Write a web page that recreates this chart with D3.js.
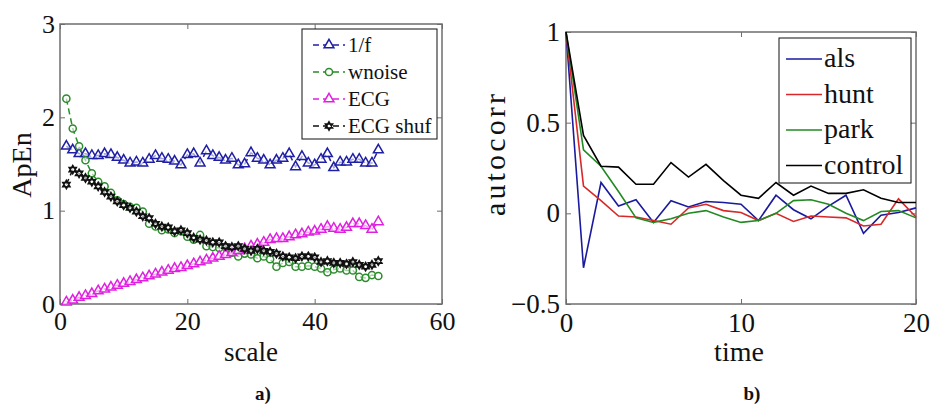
<!DOCTYPE html>
<html><head><meta charset="utf-8">
<script src="https://cdn.jsdelivr.net/npm/d3@7"></script>
<style>body{margin:0;background:#fff;} svg{display:block;} svg text{font-family:"Liberation Serif","Tinos","Times New Roman","DejaVu Serif",serif !important;}</style>
</head><body>
<svg id="c" width="931" height="407"></svg>
<script>
// ---- Panel a) data ----
const scales = d3.range(1, 51);
const oneOverF = [1.69,1.65,1.61,1.61,1.59,1.59,1.61,1.60,1.57,1.54,1.51,1.52,1.51,1.55,1.59,1.56,1.55,1.53,1.49,1.60,1.61,1.51,1.64,1.59,1.57,1.54,1.56,1.49,1.50,1.62,1.56,1.54,1.49,1.54,1.56,1.61,1.47,1.58,1.51,1.49,1.55,1.61,1.46,1.52,1.52,1.55,1.55,1.51,1.51,1.65];
const wnoise = [2.20,1.88,1.69,1.54,1.40,1.31,1.26,1.19,1.11,1.07,1.04,1.03,0.99,0.86,0.83,0.79,0.80,0.76,0.78,0.72,0.69,0.74,0.62,0.61,0.60,0.61,0.55,0.51,0.54,0.53,0.49,0.51,0.48,0.40,0.44,0.45,0.40,0.40,0.41,0.40,0.38,0.34,0.37,0.38,0.36,0.36,0.29,0.28,0.31,0.30];
const ecg = [0.02,0.04,0.07,0.09,0.11,0.14,0.16,0.18,0.20,0.22,0.24,0.26,0.28,0.30,0.32,0.34,0.36,0.38,0.39,0.41,0.43,0.45,0.47,0.49,0.51,0.53,0.55,0.57,0.59,0.62,0.64,0.66,0.69,0.70,0.70,0.72,0.74,0.75,0.77,0.78,0.80,0.83,0.81,0.80,0.82,0.86,0.86,0.84,0.80,0.88];
const ecgShuf = [1.28,1.44,1.40,1.35,1.31,1.26,1.20,1.15,1.10,1.06,1.03,0.99,0.94,0.92,0.86,0.83,0.82,0.78,0.79,0.76,0.71,0.69,0.68,0.66,0.66,0.62,0.61,0.62,0.59,0.57,0.59,0.57,0.56,0.54,0.51,0.50,0.49,0.51,0.51,0.50,0.45,0.46,0.44,0.44,0.43,0.45,0.42,0.40,0.42,0.46];
const aNames = ["1/f","wnoise","ECG","ECG shuf"];
const aXTicks = [0,20,40,60];
const aYTicks = [0,1,2,3];

// ---- Panel b) data ----
const times = d3.range(0, 21);
const als     = [1,-0.30,0.17,0.04,0.075,-0.05,0.07,0.035,0.065,0.06,0.05,-0.04,0.10,0.02,-0.03,0.04,0.10,-0.11,-0.01,0.005,0.03];
const hunt    = [1,0.15,0.07,-0.015,-0.02,-0.04,-0.06,0.03,0.05,0.015,0.005,-0.04,0.0,-0.045,-0.015,-0.02,-0.025,-0.07,-0.06,0.08,-0.02];
const park    = [1,0.35,0.26,0.12,-0.025,-0.05,-0.03,0.0,0.015,-0.02,-0.05,-0.04,0.0,0.07,0.075,0.05,0.0,-0.04,0.01,0.015,-0.025];
const control = [1,0.43,0.26,0.255,0.16,0.16,0.28,0.20,0.27,0.18,0.10,0.083,0.17,0.10,0.15,0.11,0.11,0.13,0.083,0.06,0.06];
const bNames = ["als","hunt","park","control"];
const bXTicks = [0,10,20];
const bYTicks = [-0.5,0,0.5,1];

const svg = d3.select("#c");
const frameColor = "#6e6e6e";
const FONT = "Liberation Serif, Tinos, Times New Roman, DejaVu Serif, serif";

function hexagram(){ // custom six-point star
  return {draw(ctx, s){
    const r = Math.sqrt(s)/1.6;
    for(let k=0;k<2;k++){
      for(let i=0;i<3;i++){
        const a = -Math.PI/2 + k*Math.PI + i*2*Math.PI/3;
        const x = r*Math.cos(a), y = r*Math.sin(a);
        if(i===0) ctx.moveTo(x,y); else ctx.lineTo(x,y);
      }
      ctx.closePath();
    }
  }};
}

function frame(x, y, xt, yt, fs, xPad, yPad){
  const [x0,x1] = x.range(), [y0,y1] = y.range();
  const g = svg.append("g");
  const ax = (gen, tr) => {
    const a = g.append("g").attr("transform", tr).call(gen).attr("font-family", FONT);
    a.select(".domain").remove();
    a.selectAll("line").attr("stroke", frameColor).attr("stroke-width",1);
    a.selectAll("text").attr("font-size", fs).attr("font-family", FONT).attr("fill","#111");
    return a;
  };
  ax(d3.axisBottom(x).tickValues(xt).tickSize(-5).tickPadding(xPad).tickFormat(d3.format("")), `translate(0,${y0})`);
  ax(d3.axisTop(x).tickValues(xt).tickSize(-5).tickFormat(""), `translate(0,${y1})`);
  ax(d3.axisLeft(y).tickValues(yt).tickSize(-5).tickPadding(yPad).tickFormat(d3.format("")), `translate(${x0},0)`);
  ax(d3.axisRight(y).tickValues(yt).tickSize(-5).tickFormat(""), `translate(${x1},0)`);
  g.append("rect").attr("x",x0).attr("y",y1).attr("width",x1-x0).attr("height",y0-y1)
    .attr("fill","none").attr("stroke",frameColor).attr("stroke-width",1.5);
}

// ===== Panel a =====
const xa = d3.scaleLinear().domain([0,60]).range([60,442]);
const ya = d3.scaleLinear().domain([0,3]).range([304,24]);
const aSeries = [
  {name:aNames[0], vals:oneOverF, color:"#1f1fa6", sym:d3.symbolTriangle, size:42},
  {name:aNames[1], vals:wnoise,   color:"#2a8c2a", sym:d3.symbolCircle,   size:40},
  {name:aNames[2], vals:ecg,      color:"#e020e0", sym:d3.symbolTriangle, size:42},
  {name:aNames[3], vals:ecgShuf,  color:"#111111", sym:hexagram(), size:45}
];
frame(xa, ya, aXTicks, aYTicks, 26, 8, 5);
const lineA = d3.line().x((d,i)=>xa(scales[i])).y(d=>ya(d));
aSeries.forEach(s=>{
  const g = svg.append("g");
  g.append("path").attr("d", lineA(s.vals)).attr("fill","none").attr("stroke",s.color)
    .attr("stroke-width",1.5).attr("stroke-dasharray","6,4");
  g.selectAll("path.m").data(s.vals).join("path").attr("class","m")
    .attr("transform",(d,i)=>`translate(${xa(scales[i])},${ya(d)})`)
    .attr("d", d3.symbol(s.sym, s.size)).attr("fill","white").attr("fill-opacity",0.6)
    .attr("stroke",s.color).attr("stroke-width",1.5);
});
// legend a
const lgA = svg.append("g");
lgA.append("rect").attr("x",302).attr("y",29).attr("width",135).attr("height",110)
  .attr("fill","white").attr("stroke","#111").attr("stroke-width",1);
aSeries.forEach((s,i)=>{
  const yy = 45 + i*27;
  lgA.append("line").attr("x1",313).attr("x2",345).attr("y1",yy).attr("y2",yy)
    .attr("stroke",s.color).attr("stroke-width",1.5).attr("stroke-dasharray","6,4");
  lgA.append("path").attr("transform",`translate(329,${yy})`).attr("d", d3.symbol(s.sym, s.size))
    .attr("fill","white").attr("stroke",s.color).attr("stroke-width",1.5);
  lgA.append("text").attr("x",348).attr("y",yy).attr("dy","0.35em").attr("font-size",21).attr("font-family",FONT)
    .attr("fill","#111").text(s.name);
});
svg.append("text").attr("x",251).attr("y",361).attr("text-anchor","middle").attr("font-size",27).attr("font-family",FONT).attr("fill","#111").text("scale");
svg.append("text").attr("transform","translate(31,165) rotate(-90)").attr("text-anchor","middle").attr("font-size",28).attr("font-family",FONT).attr("fill","#111").text("ApEn");
svg.append("text").attr("x",263).attr("y",400).attr("text-anchor","middle").attr("font-size",19).attr("font-weight","bold").attr("font-family",FONT).attr("fill","#111").text("a)");

// ===== Panel b =====
const xb = d3.scaleLinear().domain([0,20]).range([566,916]);
const yb = d3.scaleLinear().domain([-0.5,1]).range([304,32]);
frame(xb, yb, bXTicks, bYTicks, 27, 9, 6);
const bSeries = [
  {name:bNames[0], vals:als,     color:"#1a1a9e"},
  {name:bNames[1], vals:hunt,    color:"#d82828"},
  {name:bNames[2], vals:park,    color:"#228a22"},
  {name:bNames[3], vals:control, color:"#000000"}
];
const lineB = d3.line().x((d,i)=>xb(times[i])).y(d=>yb(d));
bSeries.forEach(s=>{
  svg.append("path").attr("d", lineB(s.vals)).attr("fill","none").attr("stroke",s.color).attr("stroke-width",1.6);
});
const lgB = svg.append("g");
lgB.append("rect").attr("x",779).attr("y",38).attr("width",132).attr("height",145)
  .attr("fill","white").attr("stroke","#111").attr("stroke-width",1);
bSeries.forEach((s,i)=>{
  const yy = 59 + i*35.5;
  lgB.append("line").attr("x1",786).attr("x2",822).attr("y1",yy).attr("y2",yy).attr("stroke",s.color).attr("stroke-width",1.6);
  lgB.append("text").attr("x",824).attr("y",yy).attr("dy","0.3em").attr("font-size",28).attr("font-family",FONT).attr("fill","#111").text(s.name);
});
svg.append("text").attr("x",739).attr("y",361).attr("text-anchor","middle").attr("font-size",28).attr("font-family",FONT).attr("fill","#111").text("time");
svg.append("text").attr("transform","translate(505,155) rotate(-90)").attr("text-anchor","middle").attr("font-size",30).attr("font-family",FONT)
  .attr("textLength",122).attr("lengthAdjust","spacing").attr("fill","#111").text("autocorr");
svg.append("text").attr("x",752).attr("y",400).attr("text-anchor","middle").attr("font-size",19).attr("font-weight","bold").attr("font-family",FONT).attr("fill","#111").text("b)");
</script>
</body></html>
